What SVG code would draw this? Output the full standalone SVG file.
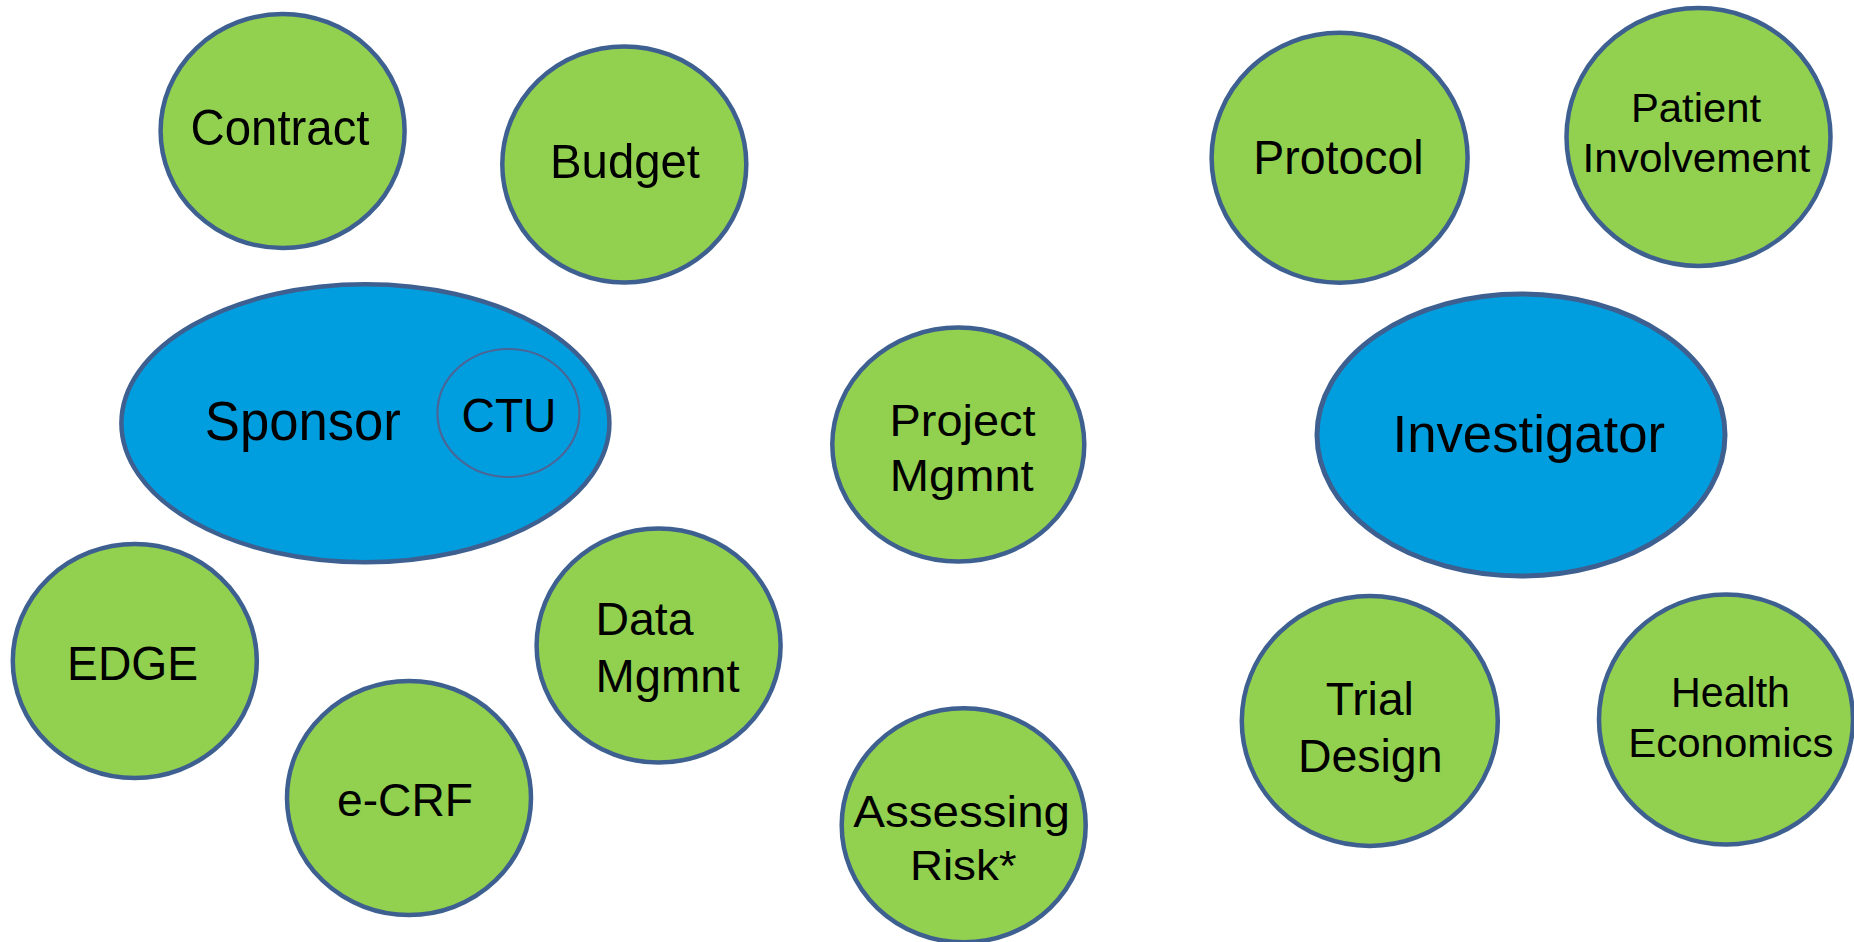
<svg xmlns="http://www.w3.org/2000/svg" width="1854" height="942" viewBox="0 0 1854 942">
<style>
.g{fill:#92D050;stroke:#3E6090;stroke-width:4.5}
.b{fill:#009EDF;stroke:#3E6090;stroke-width:4.5}
.c{fill:#009EDF;stroke:#4A6596;stroke-width:2.2}
text{font-family:"Liberation Sans",Arial,sans-serif;fill:#000;text-anchor:middle}
</style>
<rect width="1854" height="942" fill="#fff"/>
<g id="connectors"/>
<g id="contract"><ellipse class="g" cx="282.6" cy="131" rx="122" ry="117"/><text x="280" y="145" font-size="50" textLength="179" lengthAdjust="spacingAndGlyphs">Contract</text></g>
<g id="budget"><ellipse class="g" cx="624.3" cy="164.4" rx="122" ry="118"/><text x="625" y="178" font-size="49" textLength="150" lengthAdjust="spacingAndGlyphs">Budget</text></g>
<g id="sponsor"><ellipse class="b" cx="365.4" cy="423.3" rx="244" ry="139"/><text x="302.8" y="440" font-size="55" textLength="196" lengthAdjust="spacingAndGlyphs">Sponsor</text>
<g id="ctu"><ellipse class="c" cx="508.4" cy="413" rx="71" ry="64"/><text x="509" y="432" font-size="48" textLength="95" lengthAdjust="spacingAndGlyphs">CTU</text></g></g>
<g id="edge"><ellipse class="g" cx="134.8" cy="661" rx="122" ry="117"/><text x="132.6" y="680" font-size="47.5" textLength="131" lengthAdjust="spacingAndGlyphs">EDGE</text></g>
<g id="ecrf"><ellipse class="g" cx="409" cy="798" rx="122" ry="117"/><text x="405" y="815.7" font-size="46" textLength="136" lengthAdjust="spacingAndGlyphs">e-CRF</text></g>
<g id="data-mgmnt"><ellipse class="g" cx="658.6" cy="645.6" rx="122" ry="117"/><text x="595.5" y="635" font-size="46.5" textLength="98" lengthAdjust="spacingAndGlyphs" style="text-anchor:start">Data</text><text x="595.5" y="691.7" font-size="46.5" textLength="144" lengthAdjust="spacingAndGlyphs" style="text-anchor:start">Mgmnt</text></g>
<g id="project-mgmnt"><ellipse class="g" cx="958.3" cy="444.6" rx="126" ry="117"/><text x="962.5" y="436" font-size="45" textLength="146" lengthAdjust="spacingAndGlyphs">Project</text><text x="961.7" y="491" font-size="45" textLength="144" lengthAdjust="spacingAndGlyphs">Mgmnt</text></g>
<g id="assessing-risk"><ellipse class="g" cx="963.7" cy="825.3" rx="122" ry="117"/><text x="961.7" y="826.7" font-size="44.5" textLength="216.7" lengthAdjust="spacingAndGlyphs">Assessing</text><text x="963.3" y="880" font-size="43" textLength="106.7" lengthAdjust="spacingAndGlyphs">Risk*</text></g>
<g id="protocol"><ellipse class="g" cx="1339.6" cy="157.8" rx="128" ry="125"/><text x="1338.5" y="174" font-size="47.5" textLength="170.3" lengthAdjust="spacingAndGlyphs">Protocol</text></g>
<g id="patient-involvement"><ellipse class="g" cx="1698.5" cy="137" rx="132" ry="129"/><text x="1696" y="121.7" font-size="40" textLength="130" lengthAdjust="spacingAndGlyphs">Patient</text><text x="1696.4" y="171.7" font-size="40.5" textLength="227.7" lengthAdjust="spacingAndGlyphs">Involvement</text></g>
<g id="investigator"><ellipse class="b" cx="1521" cy="435" rx="204" ry="141" style="stroke-width:5"/><text x="1528.8" y="451.7" font-size="52.6" textLength="272.5" lengthAdjust="spacingAndGlyphs">Investigator</text></g>
<g id="trial-design"><ellipse class="g" cx="1369.8" cy="721" rx="128" ry="125"/><text x="1369.8" y="715" font-size="46.5" textLength="88.2" lengthAdjust="spacingAndGlyphs">Trial</text><text x="1370.2" y="772" font-size="46.5" textLength="144.6" lengthAdjust="spacingAndGlyphs">Design</text></g>
<g id="health-economics"><ellipse class="g" cx="1726" cy="719.5" rx="127" ry="125"/><text x="1730.5" y="706.7" font-size="42" textLength="119" lengthAdjust="spacingAndGlyphs">Health</text><text x="1730.9" y="757.3" font-size="41" textLength="205.4" lengthAdjust="spacingAndGlyphs">Economics</text></g>
</svg>
